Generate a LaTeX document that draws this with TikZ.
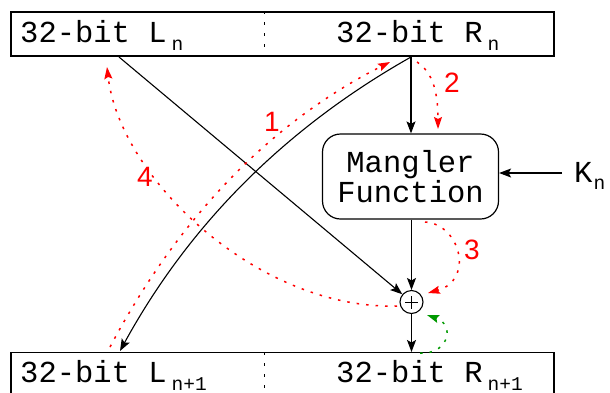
\documentclass[tikz,border=0pt]{standalone}
\usepackage{fontspec}
\setmainfont{Liberation Mono}
\newfontfamily\labfont{Liberation Sans}
\usetikzlibrary{arrows.meta}
\newcommand\mysub[2][5pt]{\kern#1\raisebox{-7.5pt}{\fontsize{19.5}{20}\selectfont #2}}
\begin{document}
\begin{tikzpicture}[x=1pt,y=-1pt,
  box/.style={draw,line width=1.2pt,inner sep=0pt},
  txt/.style={anchor=base west,inner sep=0pt,font=\fontsize{30.5}{30}\selectfont},
  blk/.style={line width=1.1pt,-{Stealth[length=12pt,width=9pt,inset=2.5pt]}},
  flow/.style={draw=red,line width=1.5pt,dash pattern=on 2.5pt off 7pt,-{Stealth[length=12pt,width=8pt,inset=2pt,fill=red]}},
  gflow/.style={draw=green!60!black,line width=1.5pt,dash pattern=on 2.5pt off 7pt,-{Stealth[length=12pt,width=8pt,inset=2pt,fill=green!60!black]}},
  lab/.style={text=red,inner sep=0pt,font=\labfont\fontsize{28}{28}\selectfont}
]
\useasboundingbox (0,0) rectangle (610,392);
% boxes
\node[box,minimum width=543pt,minimum height=44pt] (top) at (282.5,34) {};
\node[box,minimum width=543pt,minimum height=50pt,anchor=north] (bot) at (282.5,352) {};
\draw[line width=1pt,dash pattern=on 3pt off 8pt] (top.north -| 264,0) -- (top.south -| 264,0);
\draw[line width=1pt,dash pattern=on 3pt off 8pt] (bot.north -| 264,0) -- (264,395);
\node[txt] (ln) at (20,42.5) {32-bit L\mysub{n}};
\node[txt] (rn) at (336,42.5) {32-bit R\mysub{n}};
\node[txt] (ln1) at (20,382.5) {32-bit L\mysub{n+1}};
\node[txt] (rn1) at (336,382.5) {32-bit R\mysub{n+1}};
% mangler
\node[draw,rounded corners=18pt,line width=1.2pt,minimum width=176pt,minimum height=85pt,align=center,font=\fontsize{30.5}{28}\selectfont] (mf) at (410.5,176.5) {Mangler\\Function};
\node[txt] (kn) at (574,182) {K\mysub[1pt]{n}};
% xor
\node[circle,draw,line width=1.1pt,minimum size=23pt,inner sep=0pt,
  path picture={\draw[line width=1pt] ([xshift=-6.5pt]path picture bounding box.center) -- ([xshift=6.5pt]path picture bounding box.center);
                \draw[line width=1pt] ([yshift=-6.5pt]path picture bounding box.center) -- ([yshift=6.5pt]path picture bounding box.center);}] (oplus) at (411.5,302) {};
% coordinates
\coordinate (lnS) at (119,57);
\coordinate (rnS) at (411,57);
\coordinate (lnE) at (120,351);
\coordinate (knS) at (562,173);
% black connectors
\draw[blk] (lnS) -- (oplus);
\draw[blk] (rnS) -- (rnS |- mf.north);
\draw[blk] (rnS) .. controls (287,127) and (190,223) .. (lnE);
\draw[blk] (oplus |- mf.south) -- (oplus.north);
\draw[blk] (oplus.south) -- (oplus |- bot.north);
\draw[blk] (knS) -- (knS -| mf.east);
% red flows
\coordinate (r1s) at (110,347);
\coordinate (r1e) at (390,62);
\coordinate (r2s) at (417,62);
\coordinate (r2e) at (438,129);
\coordinate (r3s) at (425,222);
\coordinate (r3e) at (428,293);
\coordinate (r4s) at (397,306);
\coordinate (r4e) at (107,67);
\coordinate (gs) at (420,353);
\coordinate (ge) at (427,315);
\draw[flow] (r1s) .. controls (180,215) and (273,121) .. (r1e);
\draw[flow] (r2s) .. controls (432,72) and (438,90) .. (r2e);
\draw[flow] (r3s) .. controls (460,224) and (475,280) .. (r3e);
\draw[flow] (r4s) .. controls (260,310) and (120,180) .. (r4e);
\draw[gflow] (gs) .. controls (448,355) and (456,325) .. (ge);
% labels
\node[lab] (l1) at (272,122) {1};
\node[lab] (l2) at (452,83) {2};
\node[lab] (l3) at (472,250) {3};
\node[lab] (l4) at (145,177) {4};
\end{tikzpicture}
\end{document}
